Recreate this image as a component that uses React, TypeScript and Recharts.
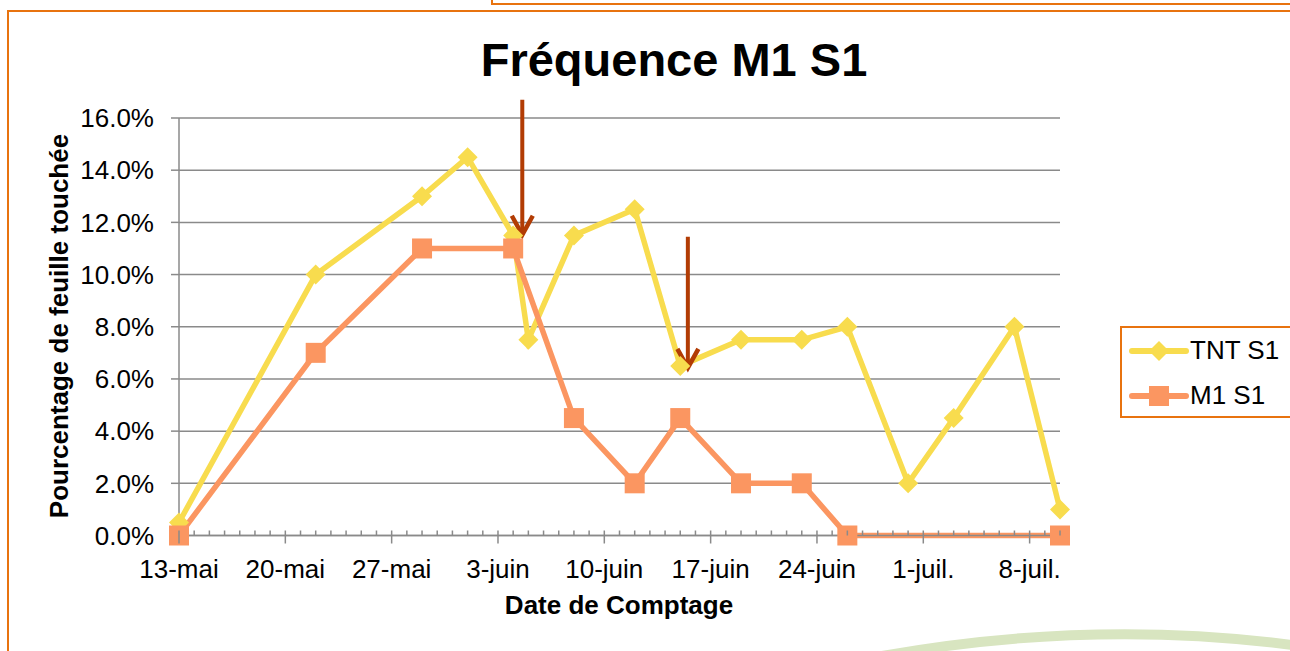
import React from 'react';
import { LineChart, Line, XAxis, YAxis, CartesianGrid, ReferenceLine, Legend } from 'recharts';

// x axis: days counted from 13-mai
const dateLabels = ['13-mai', '20-mai', '27-mai', '3-juin', '10-juin', '17-juin', '24-juin', '1-juil.', '8-juil.'];
const majorDays = [0, 7, 14, 21, 28, 35, 42, 49, 56];
const lastDay = 58;

const tntDays = [0, 9, 16, 19, 22, 23, 26, 30, 33, 37, 41, 44, 48, 51, 55, 58];
const tntValues = [0.5, 10, 13, 14.5, 11.5, 7.5, 11.5, 12.5, 6.5, 7.5, 7.5, 8, 2, 4.5, 8, 1];

const m1Days = [0, 9, 16, 22, 26, 30, 33, 37, 41, 44, 58];
const m1Values = [0, 7, 11, 11, 4.5, 2, 4.5, 2, 2, 0, 0];

const yTicks = [0, 2, 4, 6, 8, 10, 12, 14, 16];

// treatment arrows: day, start %, end %
const arrowDays = [22.6, 33.5];
const arrowFrom = [16.7, 11.45];
const arrowTo = [11.45, 6.35];

const seriesNames = ['TNT S1', 'M1 S1'];

const TNT_COLOR = '#F8DC4E';
const M1_COLOR = '#FB9661';
const ARROW_COLOR = '#B23C04';
const FRAME = '#E8730F';
const GRID = '#8A8A8A';

const tntData = tntDays.map((d, i) => ({ day: d, value: tntValues[i] }));
const m1Data = m1Days.map((d, i) => ({ day: d, value: m1Values[i] }));
const allDays = Array.from({ length: lastDay + 1 }, (_, i) => i);

const DayTick = (props: any) => {
  const { x, y, payload } = props;
  const idx = majorDays.indexOf(payload.value);
  const major = idx >= 0;
  return (
    <g>
      <line x1={x} x2={x} y1={y - 5} y2={major ? y + 8 : y} stroke={GRID} strokeWidth={1.5} />
      {major && (
        <text x={x} y={y + 42} textAnchor="middle" fontSize={26} fill="#000">
          {dateLabels[idx]}
        </text>
      )}
    </g>
  );
};

const Diamond = (props: any) => {
  const { cx, cy, index } = props;
  if (cx == null || cy == null) return <g key={`d-${index}`} />;
  return (
    <polygon
      key={`d-${index}`}
      points={`${cx},${cy - 10} ${cx + 10},${cy} ${cx},${cy + 10} ${cx - 10},${cy}`}
      fill={TNT_COLOR}
    />
  );
};

const Square = (props: any) => {
  const { cx, cy, index } = props;
  if (cx == null || cy == null) return <g key={`s-${index}`} />;
  return <rect key={`s-${index}`} x={cx - 10} y={cy - 10} width={20} height={20} fill={M1_COLOR} />;
};

const Arrow = (props: any) => {
  const { x1, y1, x2, y2 } = props;
  return (
    <g>
      <line x1={x1} y1={y1} x2={x2} y2={y2 - 2} stroke={ARROW_COLOR} strokeWidth={4} />
      <polyline
        points={`${x2 - 10.5},${y2 - 21} ${x2},${y2 - 2} ${x2 + 10.5},${y2 - 21}`}
        fill="none"
        stroke={ARROW_COLOR}
        strokeWidth={4.5}
        strokeLinejoin="miter"
      />
    </g>
  );
};

const renderLegend = () => (
  <div
    style={{
      width: 185,
      height: 92,
      boxSizing: 'border-box',
      border: `2px solid ${FRAME}`,
      background: '#fff',
      fontSize: 26,
      color: '#000',
    }}
  >
    {seriesNames.map((name, i) => (
      <div key={name} style={{ height: 45, display: 'flex', alignItems: 'center' }}>
        <svg width={68} height={24} style={{ display: 'block' }}>
          <line
            x1={10}
            x2={64}
            y1={12}
            y2={12}
            stroke={i === 0 ? TNT_COLOR : M1_COLOR}
            strokeWidth={6}
            strokeLinecap="round"
          />
          {i === 0 ? (
            <polygon points="37,2 47,12 37,22 27,12" fill={TNT_COLOR} />
          ) : (
            <rect x={27} y={2} width={20} height={20} fill={M1_COLOR} />
          )}
        </svg>
        <span>{name}</span>
      </div>
    ))}
  </div>
);

export default function App() {
  return (
    <div
      style={{
        position: 'absolute',
        left: 0,
        top: 0,
        width: 1290,
        height: 651,
        overflow: 'hidden',
        background: '#fff',
        fontFamily: '"Liberation Sans", Arial, sans-serif',
      }}
    >
      {/* frame lines */}
      <div style={{ position: 'absolute', left: 491, top: -2, width: 820, height: 5, borderLeft: `2px solid ${FRAME}`, borderBottom: `2px solid ${FRAME}` }} />
      <div style={{ position: 'absolute', left: 7, top: 10, width: 1300, height: 660, borderLeft: `2px solid ${FRAME}`, borderTop: `2px solid ${FRAME}` }} />
      <svg width={1290} height={651} style={{ position: 'absolute', left: 0, top: 0 }}>
        <path d="M 850 662 Q 1080 616 1300 646" stroke="#D8E5C0" strokeWidth={10} fill="none" />
      </svg>

      <div
        style={{
          position: 'absolute',
          left: 674,
          top: 36,
          transform: 'translateX(-50%)',
          fontSize: 47,
          lineHeight: 1,
          fontWeight: 'bold',
          whiteSpace: 'nowrap',
        }}
      >
        Fréquence M1 S1
      </div>

      <div style={{ position: 'absolute', left: 0, top: 0 }}>
        <LineChart width={1290} height={651} margin={{ top: 118, right: 230, bottom: 25.5, left: 9 }}>
          <CartesianGrid vertical={false} stroke={GRID} strokeWidth={1.5} />
          <XAxis
            type="number"
            dataKey="day"
            domain={[0, lastDay]}
            ticks={allDays}
            interval={0}
            tick={<DayTick />}
            tickLine={false}
            tickSize={0}
            tickMargin={0}
            height={90}
            axisLine={{ stroke: GRID, strokeWidth: 1.5 }}
          />
          <YAxis
            type="number"
            domain={[0, 16]}
            ticks={yTicks}
            width={170}
            tickFormatter={(v: number) => `${v.toFixed(1)}%`}
            tick={{ fontSize: 26, fill: '#000' }}
            tickSize={8}
            tickMargin={17}
            tickLine={{ stroke: GRID, strokeWidth: 1.5 }}
            axisLine={{ stroke: GRID, strokeWidth: 1.5 }}
          />
          <Legend
            layout="horizontal"
            verticalAlign="middle"
            align="center"
            content={renderLegend}
            wrapperStyle={{ position: 'absolute', left: 1120, top: 326, width: 185, height: 92 }}
          />
          <Line
            data={tntData}
            dataKey="value"
            name={seriesNames[0]}
            type="linear"
            stroke={TNT_COLOR}
            strokeWidth={5.5}
            dot={Diamond}
            activeDot={false}
            isAnimationActive={false}
          />
          <Line
            data={m1Data}
            dataKey="value"
            name={seriesNames[1]}
            type="linear"
            stroke={M1_COLOR}
            strokeWidth={5.5}
            dot={Square}
            activeDot={false}
            isAnimationActive={false}
          />
          {arrowDays.map((d, i) => (
            <ReferenceLine
              key={`arrow-${i}`}
              segment={[
                { x: d, y: arrowFrom[i] },
                { x: d, y: arrowTo[i] },
              ]}
              ifOverflow="visible"
              shape={Arrow}
            />
          ))}
        </LineChart>
      </div>

      <div
        style={{
          position: 'absolute',
          left: 59,
          top: 326,
          transform: 'translate(-50%, -50%) rotate(-90deg)',
          fontSize: 26,
          lineHeight: 1,
          fontWeight: 'bold',
          whiteSpace: 'nowrap',
        }}
      >
        Pourcentage de feuille touchée
      </div>
      <div
        style={{
          position: 'absolute',
          left: 619,
          top: 592,
          transform: 'translateX(-50%)',
          fontSize: 26,
          lineHeight: 1,
          fontWeight: 'bold',
          whiteSpace: 'nowrap',
        }}
      >
        Date de Comptage
      </div>
    </div>
  );
}
